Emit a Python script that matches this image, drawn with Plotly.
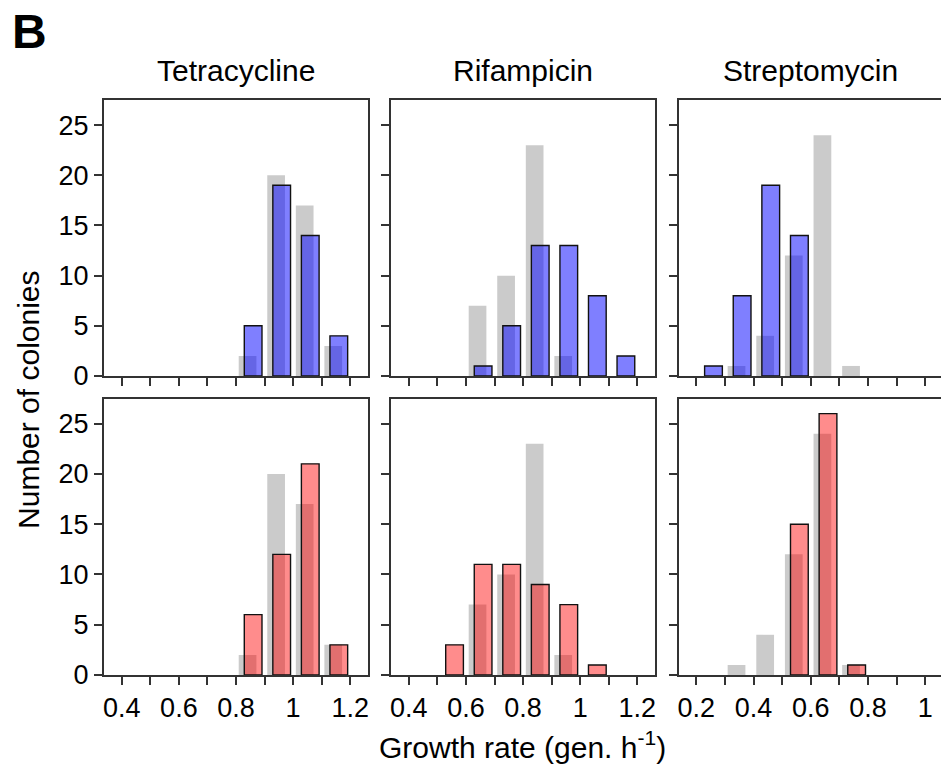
import plotly.graph_objects as go

# ---------------- data ----------------
bin_centers = [0.25, 0.35, 0.45, 0.55, 0.65, 0.75, 0.85, 0.95, 1.05, 1.15]

antibiotics = ["Tetracycline", "Rifampicin", "Streptomycin"]

tet_ref  = [0, 0, 0, 0, 0, 0, 2, 20, 17, 3]
tet_blue = [0, 0, 0, 0, 0, 0, 5, 19, 14, 4]
tet_red  = [0, 0, 0, 0, 0, 0, 6, 12, 21, 3]

rif_ref  = [0, 0, 0, 0, 7, 10, 23, 2, 0, 0]
rif_blue = [0, 0, 0, 0, 1, 5, 13, 13, 8, 2]
rif_red  = [0, 0, 0, 3, 11, 11, 9, 7, 1, 0]

str_ref  = [0, 1, 4, 12, 24, 1, 0, 0, 0, 0]
str_blue = [1, 8, 19, 14, 0, 0, 0, 0, 0, 0]
str_red  = [0, 0, 0, 15, 26, 1, 0, 0, 0, 0]

y_ticks = [0, 5, 10, 15, 20, 25]
x_ticks_a = [0.4, 0.6, 0.8, 1.0, 1.2]
x_labels_a = ["0.4", "0.6", "0.8", "1", "1.2"]
x_minor_a = [0.5, 0.7, 0.9, 1.1]
x_ticks_b = [0.2, 0.4, 0.6, 0.8, 1.0]
x_labels_b = ["0.2", "0.4", "0.6", "0.8", "1"]
x_minor_b = [0.3, 0.5, 0.7, 0.9]

# ---------------- styles ----------------
W, H = 942, 769
HV = 754  # effective vertical extent used for placing things
FONT = "Liberation Sans, Arial, Helvetica, sans-serif"
AX = "#333333"
GRAY = "#cbcbcb"
BLUE = "rgba(0,0,255,0.5)"
RED = "rgba(255,0,0,0.45)"
BW = 0.062

col_px = [(103, 368), (390.7, 655.7), (679, 942)]
row_px = [(100, 376), (398.5, 675)]
x_ranges = [[0.337, 1.263], [0.337, 1.263], [0.138, 1.0547]]


def yf(px):
    return 1 - px / HV


panels = [
    (tet_ref, tet_blue, BLUE), (rif_ref, rif_blue, BLUE), (str_ref, str_blue, BLUE),
    (tet_ref, tet_red, RED), (rif_ref, rif_red, RED), (str_ref, str_red, RED),
]

fig = go.Figure()
layout = {}
for i, (ref, obs, col) in enumerate(panels):
    r, c = divmod(i, 3)
    s = "" if i == 0 else str(i + 1)
    xs_r = [b for b, v in zip(bin_centers, ref) if v > 0]
    ys_r = [v for v in ref if v > 0]
    xs_o = [b for b, v in zip(bin_centers, obs) if v > 0]
    ys_o = [v for v in obs if v > 0]
    fig.add_trace(go.Bar(x=xs_r, y=ys_r, width=BW, offset=-0.0405,
                         marker=dict(color=GRAY, line=dict(width=0)),
                         xaxis="x" + s, yaxis="y" + s, showlegend=False,
                         hoverinfo="skip"))
    fig.add_trace(go.Bar(x=xs_o, y=ys_o, width=BW, offset=-0.021,
                         marker=dict(color=col, line=dict(color="#111111", width=1.4)),
                         xaxis="x" + s, yaxis="y" + s, showlegend=False))
    x0, x1 = col_px[c]
    y0, y1 = row_px[r]
    ticks = x_ticks_b if c == 2 else x_ticks_a
    labels = x_labels_b if c == 2 else x_labels_a
    minor = x_minor_b if c == 2 else x_minor_a
    layout["xaxis" + s] = dict(
        domain=[x0 / W, min(x1 / W, 1.0)], range=x_ranges[c], anchor="y" + s,
        tickvals=ticks, ticktext=labels, showticklabels=(r == 1),
        ticks="outside", ticklen=8, tickwidth=1.5, tickcolor=AX,
        minor=dict(tickvals=minor, ticks="outside", ticklen=8, tickwidth=1.5,
                   tickcolor=AX, showgrid=False),
        showline=True, linecolor=AX, linewidth=1.5, mirror=True,
        showgrid=False, zeroline=False,
        tickfont=dict(size=27, family=FONT, color="black"))
    layout["yaxis" + s] = dict(
        domain=[yf(y1), yf(y0)], range=[0, 27.5], anchor="x" + s,
        tickvals=y_ticks, showticklabels=(c == 0),
        ticks="outside", ticklen=8, tickwidth=1.5, tickcolor=AX,
        showline=True, linecolor=AX, linewidth=1.5, mirror=(c != 2),
        showgrid=False, zeroline=False,
        tickfont=dict(size=27, family=FONT, color="black"))

annotations = []
for c, name in enumerate(antibiotics):
    x0, x1 = col_px[c]
    cx = (x0 + x1) / 2 if c < 2 else (x0 + 944) / 2
    annotations.append(dict(text=name, x=cx / W, y=yf(71), xref="paper", yref="paper",
                            xanchor="center", yanchor="middle", showarrow=False,
                            font=dict(size=30, family=FONT, color="black")))
annotations.append(dict(text="Growth rate (gen. h<sup>-1</sup>)", x=523 / W, y=yf(745),
                        xref="paper", yref="paper", xanchor="center", yanchor="middle",
                        showarrow=False, font=dict(size=30, family=FONT, color="black")))
annotations.append(dict(text="Number of colonies", x=27 / W, y=yf(400), textangle=-90,
                        xref="paper", yref="paper", xanchor="center", yanchor="middle",
                        showarrow=False, font=dict(size=30, family=FONT, color="black")))
annotations.append(dict(text="<b>B</b>", x=9 / W, y=yf(31),
                        xref="paper", yref="paper", xanchor="left", yanchor="middle",
                        showarrow=False, font=dict(size=48, family=FONT, color="black")))

fig.update_layout(width=W, height=H, autosize=False, margin=dict(l=0, r=0, t=0, b=0),
                  paper_bgcolor="white", plot_bgcolor="white", barmode="overlay",
                  annotations=annotations, **layout)

fig.write_html("out.html",
               config={"responsive": False, "displayModeBar": False},
               post_script="document.body.style.margin='0';document.body.style.overflow='hidden';")
